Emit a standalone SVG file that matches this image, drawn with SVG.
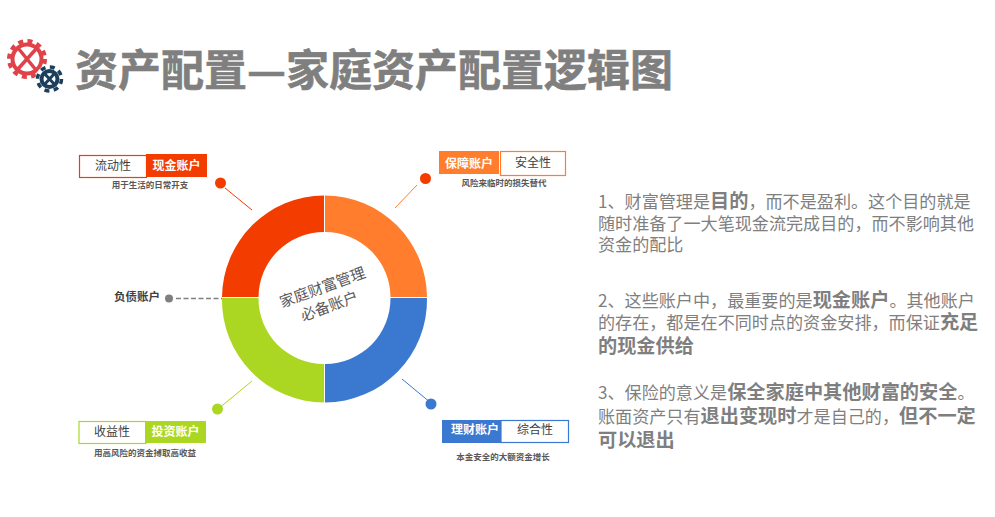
<svg xmlns="http://www.w3.org/2000/svg" width="995" height="517" viewBox="0 0 995 517">
<style>
text{font-family:"Noto Sans CJK SC","Liberation Sans",sans-serif}
.title{font-size:43px;font-weight:700;fill:#7f7f7f;stroke:#7f7f7f;stroke-width:.6}
.body{font-size:17.100px;fill:#7f7f7f}
.body tspan{font-weight:700;font-size:19.200px}
.tag{font-size:12px;fill:#404040;text-anchor:middle}
.acct{font-size:12px;font-weight:700;fill:#fff;text-anchor:middle}
.sub{font-size:8.500px;font-weight:700;fill:#595959;text-anchor:middle}
.center{font-size:15px;fill:#595959;text-anchor:middle}
.box{fill:#fff;stroke-width:1.200}
.cn{fill:none;stroke-width:1}
</style>
<rect width="995" height="517" fill="#fff"/>
<g id="logo">
<g id="gear-red" fill="none" stroke="#e0424a">
<circle cx="27" cy="59" r="14.500" stroke-width="4"/>
<circle cx="27" cy="59" r="18" stroke-width="4" stroke-dasharray="5 4.420"/>
<path d="M18 48L36 70M36 49L18 69" stroke-width="3.500"/>
</g>
<g id="gear-dark" fill="none" stroke="#1c3f5e">
<circle cx="49.500" cy="79" r="14" fill="#fff" stroke="none"/>
<circle cx="49.500" cy="79" r="8" stroke-width="4"/>
<circle cx="49.500" cy="79" r="12" stroke-width="3.500" stroke-dasharray="5 4.420"/>
<path d="M44 73L55 85M55 73L44 85" stroke-width="3"/>
</g>
</g>
<text class="title" x="75" y="86">资产配置—家庭资产配置逻辑图</text>
<g id="connectors">
<path class="cn" d="M225 188L252 210" stroke="#f23c00"/>
<path class="cn" d="M417 185L395 208" stroke="#ff7d2d"/>
<path class="cn" d="M402 379L431 403" stroke="#3b78cf"/>
<path class="cn" d="M252 381L218 409" stroke="#abd723"/>
<path d="M176 298.500H222" fill="none" stroke="#7f7f7f" stroke-width="1.500" stroke-dasharray="5 2.500"/>
</g>
<g id="donut">
<path d="M324 195.500A102.500 102.500 0 0 0 222 297H258.500A65.500 65.500 0 0 1 324 232Z" fill="#f23c00"/>
<path d="M325 195.500A102.500 102.500 0 0 1 427 297H390.500A65.500 65.500 0 0 0 325 232Z" fill="#ff7d2d"/>
<path d="M427 298A102.500 102.500 0 0 1 325 402.500V364A65.500 65.500 0 0 0 390.500 298Z" fill="#3b78cf"/>
<path d="M222 298A102.500 102.500 0 0 0 324 402.500V364A65.500 65.500 0 0 1 258.500 298Z" fill="#abd723"/>
<g transform="translate(3 2) rotate(-20 323 295)">
<text class="center" x="323" y="290">家庭财富管理</text>
<text class="center" x="323" y="310">必备账户</text>
</g>
</g>
<g id="node-cash">
<circle cx="220.500" cy="183" r="5.500" fill="#f23c00"/>
<rect class="box" x="79.500" y="155.500" width="67" height="22" stroke="#f23c00"/>
<rect x="146" y="154" width="61" height="23" fill="#f23c00"/>
<text class="tag" x="113" y="170">流动性</text>
<text class="acct" x="176.500" y="170">现金账户</text>
<text class="sub" x="150" y="188">用于生活的日常开支</text>
</g>
<g id="node-insurance">
<circle cx="425.500" cy="178.500" r="5.500" fill="#f23c00"/>
<rect x="439" y="151" width="60" height="23" fill="#ff7d2d"/>
<rect class="box" x="500.500" y="151.500" width="65" height="24" stroke="#ff7d2d"/>
<text class="acct" x="469" y="168">保障账户</text>
<text class="tag" x="533" y="167">安全性</text>
<text class="sub" x="504" y="186">风险来临时的损失替代</text>
</g>
<g id="node-debt">
<circle cx="169" cy="298.500" r="4" fill="#7f7f7f"/>
<text x="137" y="301" font-size="11.500" font-weight="700" fill="#404040" text-anchor="middle">负债账户</text>
</g>
<g id="node-invest">
<circle cx="217.500" cy="409" r="5.500" fill="#abd723"/>
<rect class="box" x="79" y="421.500" width="67" height="22" stroke="#abd723"/>
<rect x="145" y="421" width="61" height="22" fill="#abd723"/>
<text class="tag" x="112" y="436">收益性</text>
<text class="acct" x="175.500" y="436">投资账户</text>
<text class="sub" x="145" y="456">用高风险的资金搏取高收益</text>
</g>
<g id="node-finance">
<circle cx="431" cy="404" r="5.500" fill="#3b78cf"/>
<rect x="442" y="420" width="60" height="23" fill="#3b78cf"/>
<rect class="box" x="501" y="420.500" width="67.500" height="22" stroke="#3b78cf"/>
<text class="acct" x="475" y="434">理财账户</text>
<text class="tag" x="535" y="434">综合性</text>
<text class="sub" x="503" y="460">本金安全的大额资金增长</text>
</g>
<g id="notes">
<text class="body" x="598" y="208">1、财富管理是<tspan>目的</tspan>&#65292;而不是盈利。这个目的就是</text>
<text class="body" x="598" y="230">随时准备了一大笔现金流完成目的&#65292;而不影响其他</text>
<text class="body" x="598" y="251">资金的配比</text>
<text class="body" x="598" y="307">2、这些账户中&#65292;最重要的是<tspan>现金账户</tspan>。其他账户</text>
<text class="body" x="598" y="329">的存在&#65292;都是在不同时点的资金安排&#65292;而保证<tspan>充足</tspan></text>
<text class="body" x="598" y="353"><tspan>的现金供给</tspan></text>
<text class="body" x="598" y="399">3、保险的意义是<tspan>保全家庭中其他财富的安全</tspan>。</text>
<text class="body" x="598" y="423">账面资产只有<tspan>退出变现时</tspan>才是自己的&#65292;<tspan>但不一定</tspan></text>
<text class="body" x="598" y="447"><tspan>可以退出</tspan></text>
</g>
</svg>
